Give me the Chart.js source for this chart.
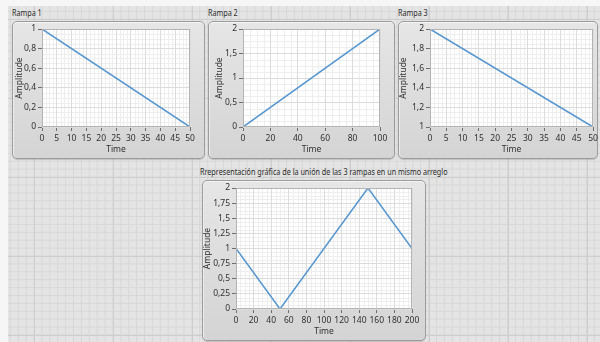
<!DOCTYPE html>
<html>
<head>
<meta charset="utf-8">
<script src="https://cdn.jsdelivr.net/npm/chart.js@4.4.1/dist/chart.umd.min.js"></script>
<style>
  html, body { margin: 0; padding: 0; }
  body {
    width: 600px; height: 342px; overflow: hidden; position: relative;
    background-color: #e4e4e4;
    background-image:
      linear-gradient(to right, #cecece 1px, transparent 1px),
      linear-gradient(to bottom, #cecece 1px, transparent 1px),
      linear-gradient(to right, #d7d7d7 1px, transparent 1px),
      linear-gradient(to bottom, #d7d7d7 1px, transparent 1px);
    background-size: 79px 79px, 79px 79px, 7.9px 7.9px, 7.9px 7.9px;
    background-position: 34px 19px, 34px 19px, 2px 3px, 2px 3px;
    font-family: "Noto Sans", "DejaVu Sans", sans-serif;
  }
  .strip { position: absolute; background: #f6f6f6; }
  .caption { position: absolute; font-size: 8px; color: #2a2a2a; white-space: nowrap; line-height: 10px;
             transform: scaleX(0.9); transform-origin: 0 0; }
  .panel {
    position: absolute; box-sizing: border-box;
    border: 1px solid #9c9c9c; border-radius: 5px;
    background: linear-gradient(#e6e6e6, #d4d4d4);
    box-shadow: inset 0 1px 0 #f5f5f5, inset 1px 0 0 #ececec, 0 1px 1px rgba(0,0,0,0.15);
  }
  .panel canvas { position: absolute; left: -1px; top: -1px; }
</style>
</head>
<body>
<div class="strip" style="left:0;top:0;width:600px;height:6px"></div>
<div class="strip" style="left:0;top:0;width:8px;height:342px"></div>

<div class="caption" style="left:12px;top:8px">Rampa 1</div>
<div class="caption" style="left:208px;top:8px">Rampa 2</div>
<div class="caption" style="left:398px;top:8px">Rampa 3</div>
<div class="caption" style="left:200px;top:167px">Rrepresentación gráfica de la unión de las 3 rampas en un mismo arreglo</div>

<div class="panel" id="p1" style="left:12px;top:21px;width:193px;height:138px"><canvas id="c1"></canvas></div>
<div class="panel" id="p2" style="left:208px;top:21px;width:187px;height:138px"><canvas id="c2"></canvas></div>
<div class="panel" id="p3" style="left:398px;top:21px;width:200px;height:138px"><canvas id="c3"></canvas></div>
<div class="panel" id="p4" style="left:202px;top:180px;width:224px;height:161px"><canvas id="c4"></canvas></div>

<script>
// Rampa 1: amplitude falls from 1 to 0 over 50 samples
const rampa1Time = [0, 50];
const rampa1Amp  = [1, 0];
// Rampa 2: amplitude rises from 0 to 2 over 100 samples
const rampa2Time = [0, 100];
const rampa2Amp  = [0, 2];
// Rampa 3: amplitude falls from 2 to 1 over 50 samples
const rampa3Time = [0, 50];
const rampa3Amp  = [2, 1];
// The three ramps joined in a single array (200 samples)
const unionTime = [0, 50, 150, 200];
const unionAmp  = [1, 0, 2, 1];

// Tick values for each graph
const r1XTicks = [0, 5, 10, 15, 20, 25, 30, 35, 40, 45, 50];
const r1YTicks = [0, 0.2, 0.4, 0.6, 0.8, 1];
const r2XTicks = [0, 20, 40, 60, 80, 100];
const r2YTicks = [0, 0.5, 1, 1.5, 2];
const r3XTicks = [0, 5, 10, 15, 20, 25, 30, 35, 40, 45, 50];
const r3YTicks = [1, 1.2, 1.4, 1.6, 1.8, 2];
const unXTicks = [0, 20, 40, 60, 80, 100, 120, 140, 160, 180, 200];
const unYTicks = [0, 0.25, 0.5, 0.75, 1, 1.25, 1.5, 1.75, 2];

const FONT = { family: '"Noto Sans", "DejaVu Sans", sans-serif', size: 8.5 };
const TEXT = '#303030';
const LINE = '#5596d0';

// comma as decimal separator
const fmt = v => String(Math.round(v * 100) / 100).replace('.', ',');

// white plot background, minor grid and frame around the plot area
const plotFrame = {
  id: 'plotFrame',
  beforeDraw(chart) {
    const { ctx, chartArea: a, scales } = chart;
    ctx.save();
    ctx.fillStyle = '#ffffff';
    ctx.fillRect(a.left, a.top, a.right - a.left, a.bottom - a.top);
    ctx.strokeStyle = '#eeeeee';
    ctx.lineWidth = 1;
    const minor = (scale, horiz) => {
      const t = scale.ticks.map(k => k.value);
      for (let i = 0; i < t.length - 1; i++) {
        const step = (t[i + 1] - t[i]) / 4;
        for (let j = 1; j < 4; j++) {
          const p = Math.round(scale.getPixelForValue(t[i] + step * j)) + 0.5;
          ctx.beginPath();
          if (horiz) { ctx.moveTo(p, a.top); ctx.lineTo(p, a.bottom); }
          else { ctx.moveTo(a.left, p); ctx.lineTo(a.right, p); }
          ctx.stroke();
        }
      }
    };
    minor(scales.x, true);
    minor(scales.y, false);
    ctx.restore();
  },
  afterDraw(chart) {
    const { ctx, chartArea: a } = chart;
    ctx.save();
    ctx.strokeStyle = '#b4b4b4';
    ctx.lineWidth = 1;
    ctx.strokeRect(Math.round(a.left) + 0.5, Math.round(a.top) + 0.5,
                   Math.round(a.right - a.left) - 1, Math.round(a.bottom - a.top) - 1);
    ctx.restore();
  }
};

function makeGraph(canvasId, panel, plot, time, amp, xTicks, yTicks, yTitleX, xTitleY) {
  const canvas = document.getElementById(canvasId);
  canvas.width = panel.w; canvas.height = panel.h;
  canvas.style.width = panel.w + 'px'; canvas.style.height = panel.h + 'px';
  const lh = FONT.size * 1.2;
  const yAxisW = plot.l - panel.x;
  const xAxisH = panel.y + panel.h - plot.b;
  const points = time.map((t, i) => ({ x: t, y: amp[i] }));
  const axis = (ticks, isX) => ({
    type: 'linear',
    min: ticks[0], max: ticks[ticks.length - 1],
    afterBuildTicks: s => { s.ticks = ticks.map(v => ({ value: v })); },
    afterFit: s => {
      if (isX) { s.height = xAxisH; s.paddingLeft = 0; s.paddingRight = 0; }
      else { s.width = yAxisW; s.paddingTop = 0; s.paddingBottom = 0; }
    },
    border: { display: false },
    grid: { color: '#dcdcdc', tickColor: '#6e6e6e', tickLength: 4, lineWidth: 1 },
    ticks: { font: FONT, color: TEXT, padding: 2, autoSkip: false, maxRotation: 0, callback: v => fmt(v) },
    title: {
      display: true, text: isX ? 'Time' : 'Amplitude', font: FONT, color: TEXT,
      padding: isX ? { top: 0, bottom: (panel.y + panel.h - xTitleY) - lh / 2 }
                   : { top: (yTitleX - panel.x) - lh / 2, bottom: 0 }
    }
  });
  return new Chart(canvas, {
    type: 'line',
    data: { datasets: [{ data: points, borderColor: LINE, borderWidth: 1.5, pointRadius: 0, tension: 0, fill: false }] },
    options: {
      responsive: false, animation: false, devicePixelRatio: 1,
      layout: { padding: { left: 0, top: plot.t - panel.y, right: panel.x + panel.w - plot.r, bottom: 0 } },
      plugins: { legend: { display: false }, tooltip: { enabled: false } },
      scales: { x: axis(xTicks, true), y: axis(yTicks, false) }
    },
    plugins: [plotFrame]
  });
}

makeGraph('c1', { x: 12, y: 21, w: 193, h: 138 }, { l: 42, t: 29, r: 190, b: 127 },
  rampa1Time, rampa1Amp, r1XTicks, r1YTicks, 20, 149.5);
makeGraph('c2', { x: 208, y: 21, w: 187, h: 138 }, { l: 243, t: 29, r: 380, b: 127 },
  rampa2Time, rampa2Amp, r2XTicks, r2YTicks, 220, 149.5);
makeGraph('c3', { x: 398, y: 21, w: 200, h: 138 }, { l: 430, t: 29, r: 593, b: 127 },
  rampa3Time, rampa3Amp, r3XTicks, r3YTicks, 404, 149.5);
makeGraph('c4', { x: 202, y: 180, w: 224, h: 161 }, { l: 236, t: 188, r: 412, b: 309 },
  unionTime, unionAmp, unXTicks, unYTicks, 208, 331.5);
</script>
</body>
</html>
